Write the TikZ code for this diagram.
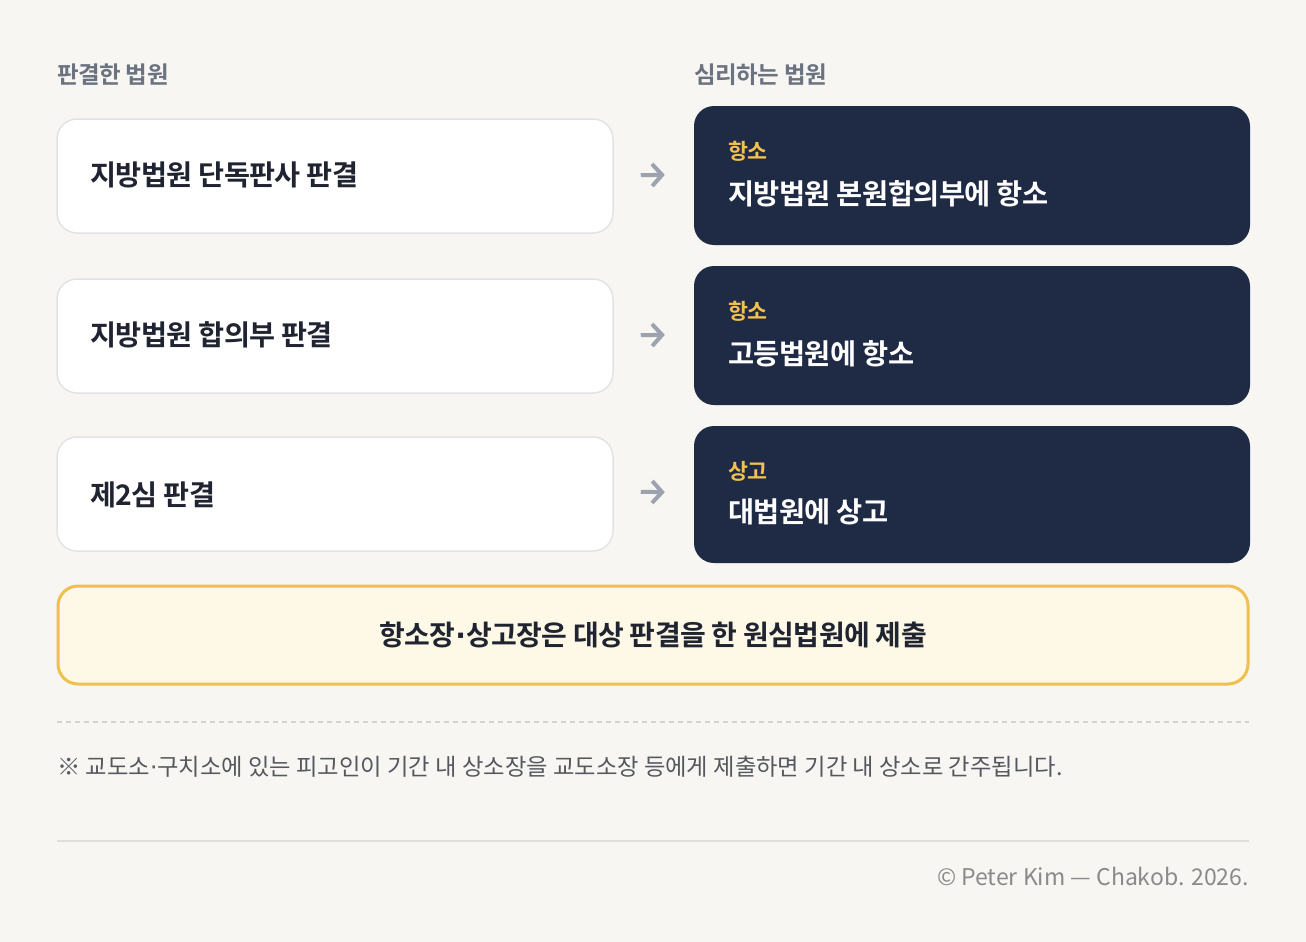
\documentclass[tikz,border=0pt]{standalone}
\usepackage{fontspec}
\setmainfont{Noto Sans CJK KR}[BoldFont={* Bold}]
\newfontfamily\krtight{Noto Sans CJK KR}[BoldFont={* Bold},LetterSpace=-2]
\newfontfamily\dotfont{DejaVu Sans}
\newcommand\mdot{{\dotfont ·}}
\usetikzlibrary{arrows.meta}
\definecolor{bg}{HTML}{F7F6F3}
\definecolor{navy}{HTML}{1F2A44}
\definecolor{ink}{HTML}{1F2430}
\definecolor{hdr}{HTML}{6B7280}
\definecolor{gold}{HTML}{F2C14E}
\definecolor{notefill}{HTML}{FEF8E6}
\definecolor{noteline}{HTML}{EFC04E}
\definecolor{boxline}{HTML}{E3E3E6}
\definecolor{arrowc}{HTML}{9CA3AF}
\definecolor{foot}{HTML}{55585E}
\definecolor{copyc}{HTML}{8A8A8A}
\definecolor{rulec}{HTML}{E0DFDB}
\definecolor{dashc}{HTML}{D3D3D3}
\begin{document}
\begin{tikzpicture}[x=1pt,y=-1pt,
  lbox/.style={draw=boxline,line width=1.5pt,fill=white,rounded corners=20pt,minimum width=556pt,minimum height=114pt,inner sep=0pt},
  rbox/.style={fill=navy,rounded corners=20pt,minimum width=556pt,inner sep=0pt},
  ltext/.style={anchor=west,inner sep=0pt,font=\krtight\fontsize{28.3}{32}\selectfont\bfseries,text=ink},
  rlabel/.style={anchor=west,inner sep=0pt,font=\krtight\fontsize{21.7}{25}\selectfont\bfseries,text=gold},
  rtext/.style={anchor=west,inner sep=0pt,font=\krtight\fontsize{28.4}{32}\selectfont\bfseries,text=white},
  hdrtext/.style={anchor=west,inner sep=0pt,font=\krtight\fontsize{23.5}{27}\selectfont\bfseries,text=hdr},
  arr/.style={draw=arrowc,line width=4pt,-{Straight Barb[length=10pt,width=22pt,line width=4pt]},shorten <=27pt,shorten >=29pt}
]
\useasboundingbox[fill=bg] (0,0) rectangle (1306,942);

\node[hdrtext] (h1) at (57,75) {판결한 법원};
\node[hdrtext] (h2) at (694,75) {심리하는 법원};

% left boxes
\node[lbox] (l1) at (335,176) {};
\node[lbox] (l2) at (335,336) {};
\node[lbox] (l3) at (335,494) {};
\node[ltext] (lt1) at (90,175) {지방법원 단독판사 판결};
\node[ltext] (lt2) at (90,335) {지방법원 합의부 판결};
\node[ltext] (lt3) at (90,495) {제2심 판결};

% right boxes
\node[rbox,minimum height=139pt] (r1) at (972,175.5) {};
\node[rbox,minimum height=139pt] (r2) at (972,335.5) {};
\node[rbox,minimum height=137pt] (r3) at (972,494.5) {};
\node[rlabel] (rl1) at (728,151) {항소};
\node[rtext] (rt1) at (728,194) {지방법원 본원합의부에 항소};
\node[rlabel] (rl2) at (728,311) {항소};
\node[rtext] (rt2) at (728,354) {고등법원에 항소};
\node[rlabel] (rl3) at (728,471) {상고};
\node[rtext] (rt3) at (728,512) {대법원에 상고};

% arrows
\draw[arr] ([yshift=0.5pt]l1.east) -- ([yshift=1pt]r1.west);
\draw[arr] ([yshift=0.5pt]l2.east) -- ([yshift=1pt]r2.west);
\draw[arr] ([yshift=2.5pt]l3.east) -- ([yshift=2pt]r3.west);

% note box
\node[draw=noteline,line width=3pt,fill=notefill,rounded corners=20pt,minimum width=1190pt,minimum height=98pt,inner sep=0pt,
  font=\krtight\fontsize{28}{32}\selectfont\bfseries,text=ink] (note) at (653,635) {항소장\mdot 상고장은 대상 판결을 한 원심법원에 제출};

% dashed rule
\coordinate (d1) at (57,722);
\coordinate (d2) at (1249,722);
\draw[dashc,line width=1.5pt,dash pattern=on 5pt off 4pt] (d1) -- (d2);

\node[anchor=west,inner sep=0pt,font=\fontsize{23.3}{27}\selectfont,text=foot] (fn) at (57,767) {※ 교도소\mdot 구치소에 있는 피고인이 기간 내 상소장을 교도소장 등에게 제출하면 기간 내 상소로 간주됩니다.};

\coordinate (s1) at (57,841);
\coordinate (s2) at (1249,841);
\draw[rulec,line width=1.5pt] (s1) -- (s2);

\node[anchor=east,inner sep=0pt,font=\fontsize{23}{27}\selectfont,text=copyc] (cp) at (1249,876) {© Peter Kim — Chakob. 2026.};
\end{tikzpicture}
\end{document}
